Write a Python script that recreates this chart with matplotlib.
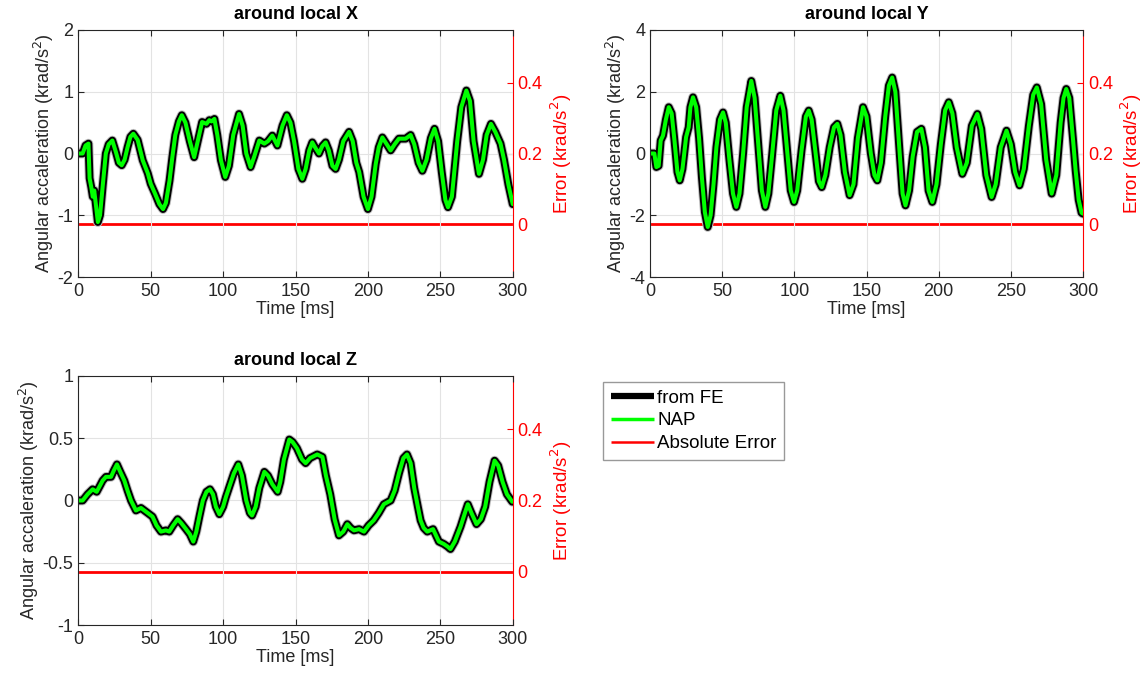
import matplotlib
matplotlib.use('Agg')
import matplotlib.pyplot as plt
from matplotlib.lines import Line2D

plt.rcParams['font.family'] = ['Liberation Sans', 'DejaVu Sans']

# ---- data (t in ms, value in krad/s^2) ----
t_x = [0, 3, 5, 7, 7.8, 9, 10, 11, 12, 13.5, 15, 17, 19, 21, 23.5, 26, 28, 30, 32, 34, 36, 38, 41, 44.5,
       48, 50, 53, 56, 58.5, 60.5, 63, 65, 67, 69.5, 71.5, 74, 77, 80, 82.5, 85.5, 88.5, 90.5, 92, 94, 96,
       98.5, 101.5, 104, 107, 111, 113.5, 116, 119, 121.5, 125, 128.5, 131, 134, 137.5, 141, 144, 146.5,
       149, 152, 154.7, 157, 159.5, 161.6, 163.5, 166.2, 168.5, 170.8, 173, 175.5, 177.7, 180, 183, 187,
       189.5, 192, 194, 197, 200, 202.5, 205.4, 207.5, 210, 213, 215.7, 218.5, 221.4, 226, 229.5, 232,
       235, 237.6, 240.5, 243.5, 246, 248.5, 251, 253.5, 255.3, 258, 261.7, 264.5, 268, 270.5, 273, 276.7,
       279.5, 282, 285, 288, 291.6, 294, 297, 300]
v_x = [0, 0, 0.13, 0.16, -0.4, -0.55, -0.7, -0.6, -0.8, -1.11, -1.0, -0.49, 0, 0.15, 0.21, 0.02, -0.15,
       -0.19, -0.1, 0.1, 0.27, 0.32, 0.22, -0.11, -0.32, -0.49, -0.65, -0.82, -0.9, -0.8, -0.44, -0.05, 0.3,
       0.52, 0.62, 0.5, 0.2, -0.06, 0.2, 0.51, 0.48, 0.54, 0.52, 0.56, 0.3, -0.11, -0.38, -0.2, 0.3, 0.64,
       0.45, 0.0, -0.22, -0.05, 0.21, 0.16, 0.2, 0.29, 0.13, 0.45, 0.62, 0.5, 0.2, -0.25, -0.41, -0.25,
       0.05, 0.18, 0.1, 0.0, 0.12, 0.18, 0.05, -0.2, -0.25, -0.1, 0.2, 0.35, 0.2, -0.15, -0.3, -0.7, -0.9,
       -0.7, -0.17, 0.1, 0.26, 0.15, 0.05, 0.15, 0.24, 0.24, 0.3, 0.15, -0.15, -0.28, -0.1, 0.25, 0.4, 0.2,
       -0.3, -0.75, -0.87, -0.7, 0.2, 0.75, 1.02, 0.85, 0.2, -0.33, -0.1, 0.3, 0.48, 0.35, 0.16, -0.1, -0.5,
       -0.82]

t_y = [0, 3, 4.4, 6, 7.4, 9, 11, 13, 15, 17, 19, 20.6, 22.5, 25, 26.8, 28, 29.8, 32, 34, 36, 38, 40, 42,
       44, 46, 48.5, 50.6, 52.5, 55, 57.5, 59.8, 62, 64.5, 67, 70.2, 72.5, 75, 77.5, 79.9, 82, 84.5, 87.5,
       90.3, 92.5, 95, 97.5, 99.8, 102, 105, 108, 110, 112, 115, 117, 119, 121.5, 124.5, 127.5, 129.8, 132,
       135, 138.3, 141, 144, 147.6, 150, 153, 155.5, 157.5, 160, 163, 165.5, 167.8, 170, 173, 175, 177,
       179.5, 182, 185, 188, 190.5, 193, 195.6, 198.5, 201.5, 204.5, 207, 209.5, 212.5, 216.4, 219.5, 223,
       226.8, 229.5, 233, 236.7, 239.5, 243, 247, 250, 253, 256, 259, 262.5, 265.5, 268, 271, 274.5, 278.3,
       281.5, 284.5, 286.5, 288.4, 290.5, 293, 294.9, 297, 299, 300]
v_y = [0, 0, -0.44, -0.4, 0.42, 0.58, 1.1, 1.5, 1.3, 0.4, -0.6, -0.87, -0.5, 0.53, 0.85, 1.5, 1.82, 1.5,
       0.5, -0.8, -1.9, -2.38, -2.0, -1.0, 0.2, 1.1, 1.33, 1.0, -0.2, -1.3, -1.73, -1.3, 0.0, 1.5, 2.35,
       1.8, 0.3, -1.2, -1.73, -1.3, -0.1, 1.4, 1.87, 1.4, 0.1, -1.2, -1.57, -1.2, 0.1, 1.2, 1.39, 1.1, -0.1,
       -0.9, -1.09, -0.7, 0.2, 0.85, 0.96, 0.6, -0.6, -1.35, -1.0, 0.5, 1.5, 1.2, 0.0, -0.7, -0.87, -0.3,
       1.2, 2.2, 2.46, 2.0, 0.0, -1.3, -1.68, -1.2, -0.1, 0.7, 0.8, 0.2, -1.2, -1.57, -1.0, 0.3, 1.4, 1.66,
       1.3, 0.2, -0.66, -0.3, 0.9, 1.28, 0.8, -0.7, -1.41, -1.0, 0.2, 0.74, 0.3, -0.6, -1.03, -0.5, 0.9,
       1.9, 2.14, 1.6, -0.2, -1.3, -0.7, 1.0, 1.8, 2.09, 1.8, 0.5, -0.55, -1.5, -1.92, -1.95]

t_z = [0, 3, 6.4, 9.9, 12.7, 15, 16.8, 19.1, 22.6, 24.5, 26.7, 29, 31.8, 34, 36.4, 39.8, 43.3, 47.9, 51.3,
       54, 57.1, 60.5, 62.8, 65.5, 68.6, 71, 74.4, 77, 79.4, 81.5, 83.6, 86, 88.5, 90.9, 93, 95, 97.4, 100,
       102, 104.3, 107.5, 110.5, 113, 116, 118.5, 120, 122.5, 125, 128.5, 131, 134, 137.7, 139.5, 142,
       145.7, 148, 151, 154.5, 157, 160, 165, 168.6, 171, 174, 177, 180, 183, 185.8, 188, 190.4, 193.9,
       197.3, 200.5, 204, 207.5, 211, 215.7, 218.5, 221.5, 224.5, 227, 229.5, 232, 234.5, 236.4, 238.5,
       241, 245, 249, 252.5, 255, 257, 260, 264, 267, 269, 271.5, 275, 278, 281, 284, 287.5, 290, 293, 296,
       299.7]
v_z = [0, 0, 0.05, 0.09, 0.07, 0.12, 0.16, 0.19, 0.19, 0.24, 0.29, 0.23, 0.16, 0.08, 0.0, -0.08, -0.06,
       -0.1, -0.13, -0.2, -0.25, -0.24, -0.25, -0.2, -0.15, -0.18, -0.23, -0.27, -0.33, -0.25, -0.13, 0.0,
       0.07, 0.09, 0.05, -0.05, -0.11, -0.05, 0.03, 0.11, 0.22, 0.29, 0.2, 0.0, -0.1, -0.12, -0.05, 0.1,
       0.23, 0.2, 0.13, 0.07, 0.15, 0.33, 0.49, 0.47, 0.42, 0.33, 0.3, 0.34, 0.37, 0.35, 0.2, 0.05, -0.15,
       -0.28, -0.25, -0.19, -0.22, -0.24, -0.23, -0.25, -0.2, -0.16, -0.1, -0.03, 0.0, 0.08, 0.22, 0.34,
       0.37, 0.3, 0.1, -0.05, -0.16, -0.22, -0.25, -0.23, -0.33, -0.35, -0.37, -0.39, -0.33, -0.21, -0.1,
       -0.03, -0.1, -0.19, -0.15, -0.05, 0.15, 0.32, 0.28, 0.15, 0.05, -0.01]

# absolute error between FE and NAP (practically zero)
t_err = [0, 300]
v_err = [0.0, 0.0]

titles = ['around local X', 'around local Y', 'around local Z']
ylims = [(-2, 2), (-4, 4), (-1, 1)]
yticks = [[-2, -1, 0, 1, 2], [-4, -2, 0, 2, 4], [-1, -0.5, 0, 0.5, 1]]
yticklabels = [['-2', '-1', '0', '1', '2'], ['-4', '-2', '0', '2', '4'], ['-1', '-0.5', '0', '0.5', '1']]

# ---------------- figure ----------------
W, H = 1146, 677
fig = plt.figure(figsize=(W / 100, H / 100), dpi=100)
# axes boxes in pixels: left, top, right, bottom
boxes = [(78.3, 30, 512.7, 277), (650, 30, 1083, 277), (78.3, 376, 512.7, 625)]

RED = '#ff0000'
FS = 13
for (t, v), box, title, yl, yt, ytl in zip([(t_x, v_x), (t_y, v_y), (t_z, v_z)], boxes, titles,
                                            ylims, yticks, yticklabels):
    l, tp, r, b = box
    ax = fig.add_axes([l / W, 1 - b / H, (r - l) / W, (b - tp) / H])
    ax2 = ax.twinx()
    ax.set_zorder(ax2.get_zorder() + 1)
    ax.patch.set_visible(False)

    ax2.plot(t_err, v_err, color=RED, lw=2.0)
    ax2.set_ylim(-0.15, 0.55)
    ax2.set_yticks([0, 0.2, 0.4], ['0', '0.2', '0.4'])
    ax2.tick_params(axis='y', colors=RED, direction='in', length=4, labelsize=FS)
    ax2.set_ylabel('Error (krad/s$^2$)', color=RED, fontsize=FS + 0.5, labelpad=4)
    ax2.spines['right'].set_color(RED)
    ax2.spines['left'].set_visible(False)
    ax2.spines['top'].set_visible(False)
    ax2.spines['bottom'].set_visible(False)

    ax.plot(t, v, color='#bdbdbd', lw=7.0, solid_capstyle='round', solid_joinstyle='round')
    ax.plot(t, v, color='black', lw=5.6, solid_capstyle='round', solid_joinstyle='round')
    ax.plot(t, v, color='#00ff00', lw=2.9, solid_capstyle='round', solid_joinstyle='round')

    ax.set_xlim(0, 300)
    ax.set_ylim(*yl)
    ax.set_xticks([0, 50, 100, 150, 200, 250, 300])
    ax.set_yticks(yt, ytl)
    ax.grid(True, color='#e3e3e3', lw=0.8)
    ax.tick_params(direction='in', length=4, labelsize=FS, colors='#262626', top=True)
    ax.tick_params(axis='x', pad=4)
    ax.set_xlabel('Time [ms]', fontsize=FS, color='#262626', labelpad=1)
    ax.set_ylabel('Angular accaleration (krad/s$^2$)', fontsize=FS, color='#262626', labelpad=1)
    ax.set_title(title, fontsize=FS, fontweight='bold', pad=8)
    for s in ['left', 'top', 'bottom']:
        ax.spines[s].set_color('#262626')
    ax.spines['right'].set_visible(False)

handles = [Line2D([], [], color='black', lw=4.5, solid_capstyle='butt'),
           Line2D([], [], color='#00ff00', lw=2.5, solid_capstyle='butt'),
           Line2D([], [], color=RED, lw=1.8, solid_capstyle='butt')]
fig.legend(handles, ['from FE', 'NAP', 'Absolute Error'], loc='upper left',
           bbox_to_anchor=(603 / W, 1 - 382 / H), fontsize=FS + 0.5, frameon=True, fancybox=False,
           edgecolor='#808080', handlelength=2.3, handletextpad=0.2, labelspacing=0.3,
           borderpad=0.4, borderaxespad=0)

fig.savefig('out.png', dpi=100)
